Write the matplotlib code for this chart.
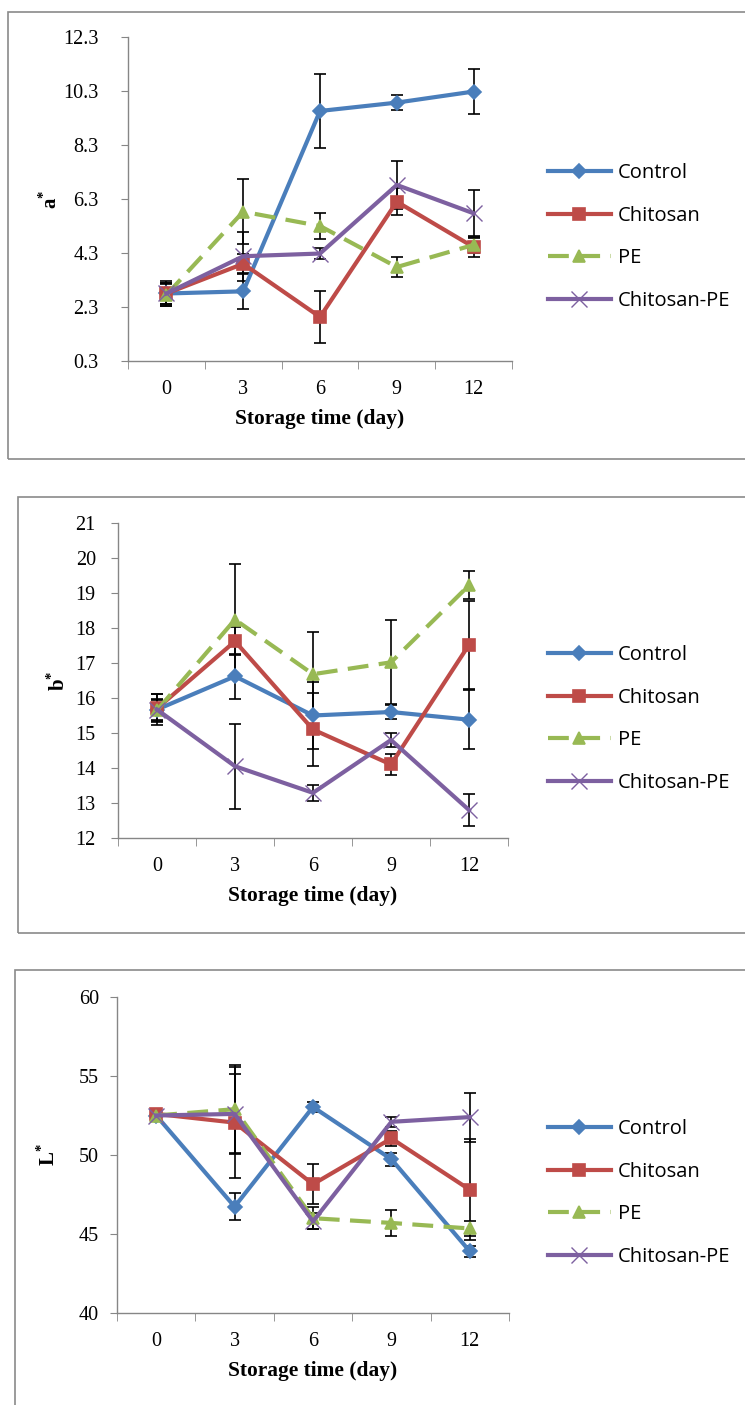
import numpy as np
import matplotlib.pyplot as plt
from matplotlib.patches import Rectangle

# Data
days = ['0', '3', '6', '9', '12']
series = ['Control', 'Chitosan', 'PE', 'Chitosan-PE']

a_vals = {
    'Control':     [2.80, 2.88, 9.56, 9.87, 10.28],
    'Chitosan':    [2.80, 3.90, 1.93, 6.20, 4.52],
    'PE':          [2.75, 5.83, 5.30, 3.78, 4.60],
    'Chitosan-PE': [2.80, 4.18, 4.28, 6.82, 5.77],
}
a_err = {
    'Control':     [0.45, 0.64, 1.37, 0.29, 0.85],
    'Chitosan':    [0.40, 0.35, 0.97, 0.50, 0.35],
    'PE':          [0.40, 1.20, 0.47, 0.36, 0.30],
    'Chitosan-PE': [0.40, 0.90, 0.20, 0.90, 0.85],
}

b_vals = {
    'Control':     [15.67, 16.62, 15.50, 15.60, 15.38],
    'Chitosan':    [15.70, 17.62, 15.10, 14.10, 17.52],
    'PE':          [15.65, 18.24, 16.68, 17.02, 19.22],
    'Chitosan-PE': [15.67, 14.05, 13.29, 14.80, 12.80],
}
b_err = {
    'Control':     [0.45, 0.65, 0.96, 0.20, 0.85],
    'Chitosan':    [0.40, 0.40, 1.05, 0.30, 1.25],
    'PE':          [0.30, 1.60, 1.20, 1.20, 0.40],
    'Chitosan-PE': [0.30, 1.22, 0.22, 0.20, 0.45],
}

L_vals = {
    'Control':     [52.5, 46.73, 53.04, 49.73, 43.90],
    'Chitosan':    [52.6, 52.05, 48.15, 51.05, 47.80],
    'PE':          [52.5, 52.90, 46.00, 45.70, 45.35],
    'Chitosan-PE': [52.5, 52.60, 45.80, 52.10, 52.40],
}
L_err = {
    'Control':     [0.3, 0.85, 0.30, 0.40, 0.35],
    'Chitosan':    [0.3, 3.50, 1.25, 0.50, 3.20],
    'PE':          [0.3, 2.80, 0.70, 0.85, 0.45],
    'Chitosan-PE': [0.3, 2.55, 0.50, 0.30, 1.55],
}

colors = {'Control': '#4A7EBB', 'Chitosan': '#BE4B48', 'PE': '#98B954', 'Chitosan-PE': '#7D60A0'}
markers = {'Control': 'D', 'Chitosan': 's', 'PE': '^', 'Chitosan-PE': 'x'}
msizes = {'Control': 7, 'Chitosan': 9, 'PE': 8, 'Chitosan-PE': 11}
styles = {'Control': '-', 'Chitosan': '-', 'PE': (0, (5, 2.5)), 'Chitosan-PE': '-'}

plt.rcParams['mathtext.fontset'] = 'custom'
plt.rcParams['mathtext.rm'] = 'Liberation Serif:bold'
plt.rcParams['mathtext.bf'] = 'Liberation Serif:bold'

W, H = 745, 1405
fig = plt.figure(figsize=(W / 100, H / 100), dpi=100)

serif = 'Liberation Serif'
gray = '#868686'

# panel: values, errors, ylabel, yticks, ticklabels, axes px box, border px box, label x, tick pad, legend y
panels = [
    (a_vals, a_err, r'a$^{\mathrm{*}}$', np.arange(0.3, 12.4, 2.0),
     ['%.1f' % v for v in np.arange(0.3, 12.4, 2.0)],
     (128, 37, 512, 361), (8, 12, 800, 459), 62, 16, 170),
    (b_vals, b_err, r'b$^{\mathrm{*}}$', np.arange(12, 22, 1), [str(v) for v in range(12, 22)],
     (118, 523, 508, 838), (18, 497, 800, 933), 70, 11, 652),
    (L_vals, L_err, r'L$^{\mathrm{*}}$', np.arange(40, 61, 5), [str(v) for v in range(40, 61, 5)],
     (117, 997, 509, 1313), (15, 970, 800, 1460), 60, 8, 1126),
]

x = np.arange(len(days))

for vals, errs, ylab, yt, ytl, (l, t, r, b), (bl, bt, br, bb), lx, ypad, legy in panels:
    # outer border
    fig.patches.append(Rectangle((bl / W, 1 - bb / H), (br - bl) / W, (bb - bt) / H,
                                 transform=fig.transFigure, fill=False,
                                 edgecolor='#8a8a8a', linewidth=1.2))
    ax = fig.add_axes([l / W, 1 - b / H, (r - l) / W, (b - t) / H])
    handles = []
    for s in series:
        ax.errorbar(x, vals[s], yerr=errs[s], fmt='none', ecolor='black',
                    elinewidth=1.2, capsize=4.5, capthick=1.2, zorder=2)
    for i, s in enumerate(series):
        h, = ax.plot(x, vals[s], color=colors[s], linestyle=styles[s], linewidth=3.0,
                     marker=markers[s], markersize=msizes[s], markerfacecolor=colors[s],
                     markeredgecolor=colors[s], markeredgewidth=1.2 if s != 'Chitosan-PE' else 1.0,
                     zorder=3 + i, label=s)
        handles.append(h)

    ax.set_xlim(-0.5, 4.5)
    ax.set_ylim(yt[0], yt[-1])
    ax.set_xticks(x)
    ax.set_xticklabels(days, fontfamily=serif, fontsize=14.5)
    ax.set_xticks(np.arange(-0.5, 4.6, 1), minor=True)
    ax.tick_params(axis='x', which='major', length=0, pad=14)
    ax.tick_params(axis='x', which='minor', length=6, direction='out', color=gray)
    ax.set_yticks(yt)
    ax.set_yticklabels(ytl, fontfamily=serif, fontsize=14.5)
    ax.tick_params(axis='y', length=5, direction='out', color=gray, pad=ypad)
    for sp in ['top', 'right']:
        ax.spines[sp].set_visible(False)
    for sp in ['left', 'bottom']:
        ax.spines[sp].set_color(gray)
        ax.spines[sp].set_linewidth(1.0)

    ax.set_xlabel('Storage time (day)', fontfamily=serif, fontweight='bold', fontsize=15.4)
    ax.xaxis.set_label_coords(0.5, -(48 / (b - t)))
    ax.set_ylabel(ylab, fontfamily=serif, fontweight='bold', fontsize=15)
    ax.yaxis.set_label_coords((lx - l) / (r - l), 0.5)

    fig.legend(handles=handles, loc='upper left',
               bbox_to_anchor=(530 / W, 1 - (legy - 25) / H),
               frameon=False, prop={'family': 'Open Sans', 'size': 14.5},
               handlelength=3.1, labelspacing=1.12, handletextpad=0.35)

fig.savefig('out.png', dpi=100)
